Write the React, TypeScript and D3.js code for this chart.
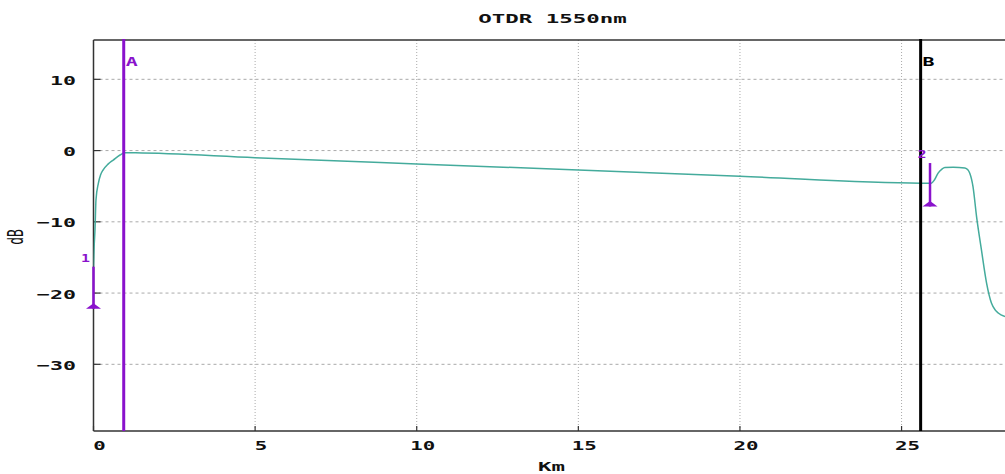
import React from "react";
import * as d3 from "d3";

const W = 1005;
const H = 474;

const title = "OTDR 1550nm";
const xLabel = "Km";
const yLabel = "dB";

const xTicks = [0, 5, 10, 15, 20, 25];
const yTicks = [10, 0, -10, -20, -30];

const curveKm = [0, 0.02, 0.046, 0.077, 0.15, 0.22, 0.3, 0.45, 0.61, 0.82, 0.97, 1.3, 5, 10, 15, 20, 25.6, 25.92, 26.02, 26.13, 26.25, 26.34, 26.6, 26.96, 27.05, 27.11, 27.21, 27.32, 27.47, 27.63, 27.78, 27.9, 27.99, 28.2];
const curveDb = [-16.3, -13.5, -11.1, -6.9, -4.6, -3.4, -2.7, -1.9, -1.33, -0.62, -0.3, -0.32, -1.0, -1.87, -2.73, -3.6, -4.57, -4.57, -4.1, -3.17, -2.6, -2.38, -2.35, -2.43, -2.7, -3.17, -5.05, -9.26, -13.9, -18.6, -21.4, -22.4, -22.8, -23.3];

const cursorNames = ["A", "B"];
const cursorKm = [0.935, 25.59];
const cursorColors = ["#8a12cc", "#000000"];

const eventNames = ["1", "2"];
const eventKm = [0, 25.88];
const eventTopDb = [-16.3, -1.75];
const eventBottomDb = [-22.2, -7.85];

const FONT = "'DejaVu Sans Mono', monospace";
const PURPLE = "#8a12cc";
const TEAL = "#44ab9c";

export default function App() {
  const left = 93.5, right = W, top = 40, bottom = 431;
  const x = d3.scaleLinear().domain([0, 28.2]).range([left, right]);
  const y = d3.scaleLinear().domain([-39.36, 15.52]).range([bottom, top]);

  const pts: [number, number][] = curveKm.map((k, i) => [k, curveDb[i]]);
  const line = d3
    .line<[number, number]>()
    .x((d) => x(d[0]))
    .y((d) => y(d[1]))
    .curve(d3.curveMonotoneX);

  const txt = (
    s: string,
    cx: number,
    by: number,
    anchor: "start" | "middle" | "end",
    perChar: number,
    size: number,
    fill = "#111"
  ) => (
    <text
      x={cx}
      y={by}
      textAnchor={anchor}
      fontFamily={FONT}
      fontWeight="bold"
      fontSize={size}
      fill={fill}
      textLength={s.length * perChar}
      lengthAdjust="spacingAndGlyphs"
    >
      {s}
    </text>
  );

  return (
    <>
      <style>{`body{margin:0}`}</style>
      <svg width={W} height={H} style={{ display: "block", background: "#fff" }}>
        <defs>
          <clipPath id="plot">
            <rect x={left} y={top} width={right - left} height={bottom - top} />
          </clipPath>
        </defs>
        {/* grid */}
        {yTicks.map((t) => (
          <line key={"gy" + t} x1={left} x2={right} y1={y(t)} y2={y(t)} stroke="#aaa" strokeWidth={1} strokeDasharray="3,3" />
        ))}
        {xTicks.filter((t) => t > 0).map((t) => (
          <line key={"gx" + t} x1={x(t)} x2={x(t)} y1={top} y2={bottom} stroke="#aaa" strokeWidth={1} strokeDasharray="1,2" />
        ))}
        {/* axes */}
        <line x1={left} x2={right} y1={top} y2={top} stroke="#333" strokeWidth={1.5} />
        <line x1={left} x2={left} y1={top} y2={bottom} stroke="#333" strokeWidth={1.5} />
        <line x1={left} x2={right} y1={bottom} y2={bottom} stroke="#333" strokeWidth={1.5} />
        {yTicks.map((t) => (
          <line key={"ty" + t} x1={left} x2={left + 7} y1={y(t)} y2={y(t)} stroke="#333" strokeWidth={1.2} />
        ))}
        {xTicks.map((t) => (
          <line key={"tx" + t} x1={x(t)} x2={x(t)} y1={bottom} y2={bottom - 5} stroke="#333" strokeWidth={1.2} />
        ))}
        {/* tick labels */}
        {yTicks.map((t) => (
          <g key={"ly" + t}>{txt(t < 0 ? "\u2212" + Math.abs(t) : String(t), 76, y(t) + 5.5, "end", 13, 13)}</g>
        ))}
        {xTicks.map((t) => (
          <g key={"lx" + t}>{txt(String(t), x(t) + 6, 450, "middle", 12.5, 13)}</g>
        ))}
        {/* titles */}
        {txt(title, 552.5, 23, "middle", 13.5, 13)}
        {txt(xLabel, 551.5, 471, "middle", 13.5, 13)}
        <text
          transform={`translate(23,237) scale(1.6,1) rotate(-90)`}
          textAnchor="middle"
          fontFamily={FONT}
          fontSize={13}
          fill="#111"
        >
          {yLabel}
        </text>
        {/* curve */}
        <g clipPath="url(#plot)">
          <path d={line(pts) || ""} fill="none" stroke={TEAL} strokeWidth={1.5} />
        </g>
        {/* cursors */}
        {cursorKm.map((k, i) => (
          <g key={"c" + i}>
            <line x1={x(k)} x2={x(k)} y1={top - 1} y2={bottom} stroke={cursorColors[i]} strokeWidth={3} />
            {txt(cursorNames[i], x(k) + 2, 66, "start", 12, 12, cursorColors[i])}
          </g>
        ))}
        {/* event markers */}
        {eventKm.map((k, i) => {
          const cx = x(k);
          const yb = y(eventBottomDb[i]);
          return (
            <g key={"e" + i}>
              <line x1={cx} x2={cx} y1={y(eventTopDb[i])} y2={yb} stroke={PURPLE} strokeWidth={2.5} />
              <path d={`M${cx - 7.5},${yb} L${cx + 7.5},${yb} L${cx},${yb - 5.5} Z`} fill={PURPLE} />
              {txt(eventNames[i], cx - 8, y(eventTopDb[i]) - 5, "middle", 9, 11, PURPLE)}
            </g>
          );
        })}
      </svg>
    </>
  );
}
